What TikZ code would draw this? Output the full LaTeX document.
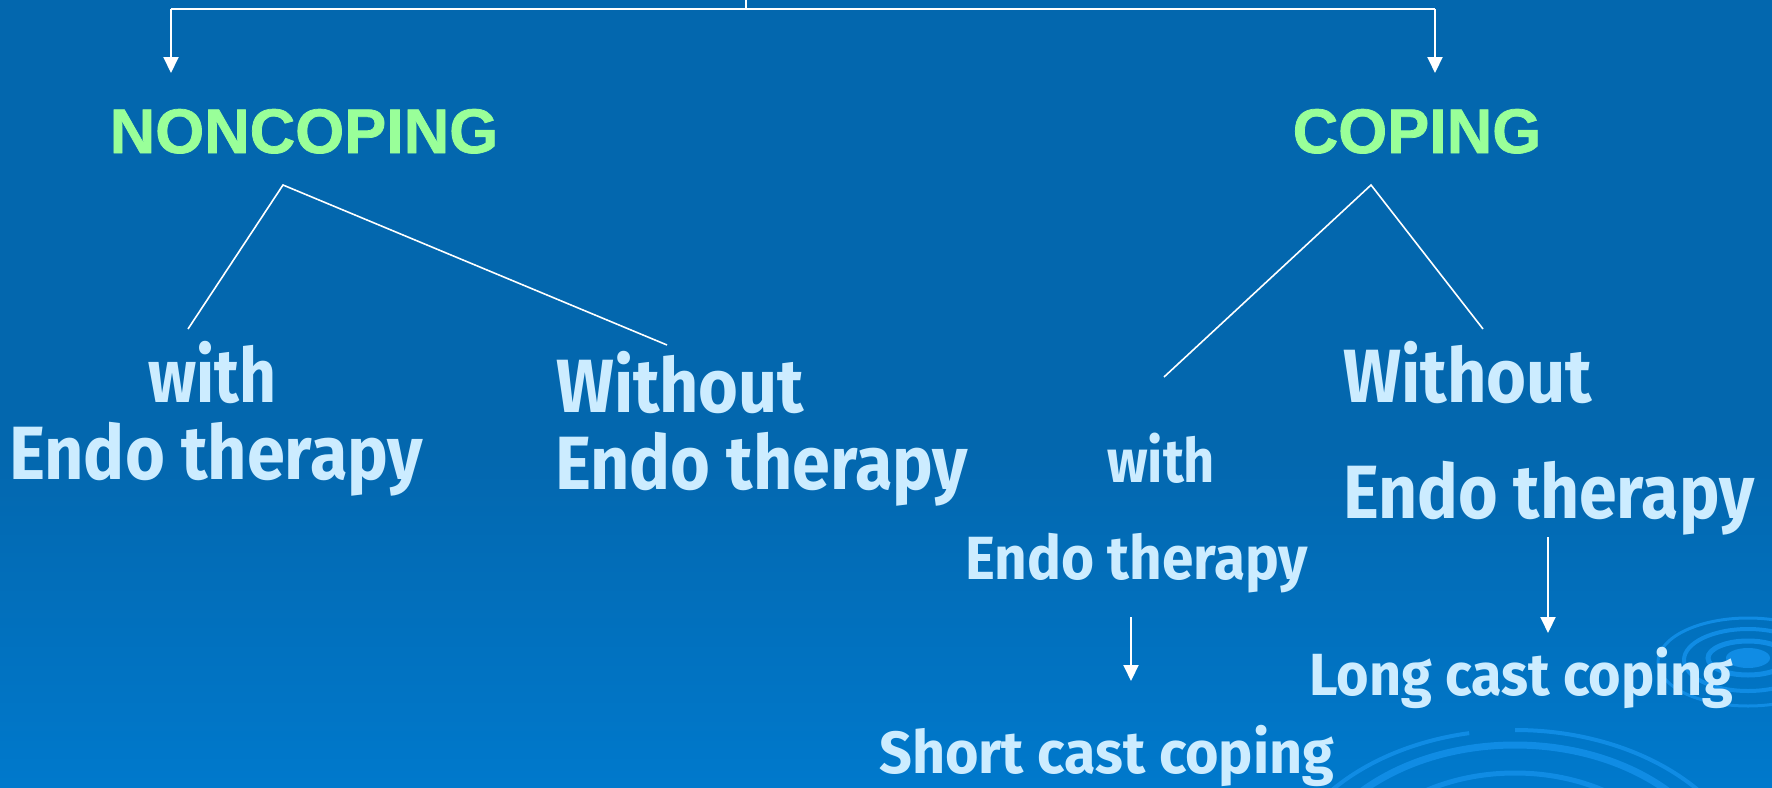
\documentclass[tikz,border=0pt]{standalone}
\usepackage{fontspec}
\usepackage{graphicx}
\usetikzlibrary{arrows.meta}
\newfontfamily\handfont{Fira Sans}
\newfontfamily\headfont{Liberation Sans Bold}[FakeBold=1.2]
\definecolor{bgtop}{RGB}{3,103,174}
\definecolor{bgbot}{RGB}{0,121,204}
\definecolor{txtblue}{RGB}{204,236,255}
\definecolor{headgreen}{RGB}{153,255,153}
\definecolor{ripplec}{RGB}{16,140,228}
\newcommand\fitbox[3]{\resizebox{#1pt}{\height}{\fontsize{#2pt}{#2pt}\selectfont #3}}
\begin{document}
\begin{tikzpicture}[x=1pt,y=-1pt,
  hand/.style={inner sep=0pt, anchor=base west, text=txtblue, font=\handfont\bfseries},
  head/.style={inner sep=0pt, anchor=base, text=headgreen, font=\headfont\fontsize{63pt}{63pt}\selectfont},
  link/.style={draw=white, line width=1.6pt},
  rail/.style={draw=white, line width=2pt},
  tip/.style={draw=white, line width=2pt, -{Triangle[width=15pt,length=16pt]}},
  ripstroke/.style={draw=ripplec, line width=#1},
  ripstroke/.default=5pt]
\useasboundingbox (0,0) rectangle (1772,787);
% background
\fill[bgtop] (0,0) rectangle (1772,787);
\shade[top color=bgtop, bottom color=bgbot] (0,450) rectangle (1772,787);
% ripples
\begin{scope}
\clip (0,0) rectangle (1772,787);
\draw[ripstroke=4pt] (1515,900) ++(180:240 and 170) arc[start angle=180,end angle=259,x radius=240,y radius=170];
\draw[ripstroke=4pt] (1515,900) ++(270:240 and 170) arc[start angle=270,end angle=360,x radius=240,y radius=170];
\draw[ripstroke=7pt] (1515,900) ellipse[x radius=215, y radius=155];
\draw[ripstroke=5pt] (1515,900) ellipse[x radius=175, y radius=127];
\fill[ripplec] (1748,658) ellipse[x radius=22, y radius=10];
\draw[ripstroke=5pt] (1748,658) ellipse[x radius=40, y radius=17];
\draw[ripstroke=4pt] (1748,660) ellipse[x radius=64, y radius=31];
\draw[ripstroke=3pt] (1748,662) ellipse[x radius=90, y radius=44];
\end{scope}
% headings
\node[head] (noncoping) at (304,153) {NONCOPING};
\node[head] (coping) at (1417,153) {COPING};
% texts
\node[hand] (withL) at (148,402) {\fitbox{128}{75.5}{with}};
\node[hand] (endoL) at (9,479) {\fitbox{414}{75.5}{Endo therapy}};
\node[hand] (withoutM) at (556,412) {\fitbox{248}{75.5}{Without}};
\node[hand] (endoM) at (555,489) {\fitbox{413}{75.5}{Endo therapy}};
\node[hand] (withS) at (1107,482) {\fitbox{108}{61}{with}};
\node[hand] (endoS) at (965,579) {\fitbox{343}{61}{Endo therapy}};
\node[hand] (withoutR) at (1343,402) {\fitbox{249}{75.5}{Without}};
\node[hand] (endoR) at (1343,518) {\fitbox{411}{75.5}{Endo therapy}};
\node[hand] (longC) at (1309,695) {\fitbox{424}{59.5}{Long cast coping}};
\node[hand] (shortC) at (879,773) {\fitbox{455}{59.5}{Short cast coping}};
% connector points
\coordinate (top) at (746,-2);
\coordinate (jn) at (746,9);
\coordinate (hl) at (171,9);
\coordinate (hr) at (1435,9);
\coordinate (tipL) at (171,73);
\coordinate (tipR) at (1435,73);
\coordinate (apexN) at (283,185);
\coordinate (nL) at (188,329);
\coordinate (nR) at (667,345);
\coordinate (apexC) at (1371,185);
\coordinate (cL) at (1164,377);
\coordinate (cR) at (1483,329);
\coordinate (sA) at (1131,617);
\coordinate (sB) at (1131,681);
\coordinate (lA) at (1548,537);
\coordinate (lB) at (1548,633);
% connectors
\draw[rail] (top) -- (jn);
\draw[rail] (hl) -- (hr);
\draw[tip] (hl) -- (tipL);
\draw[tip] (hr) -- (tipR);
\draw[link] (nL) -- (apexN) -- (nR);
\draw[link] (cL) -- (apexC) -- (cR);
\draw[tip] (sA) -- (sB);
\draw[tip] (lA) -- (lB);
\end{tikzpicture}
\end{document}
